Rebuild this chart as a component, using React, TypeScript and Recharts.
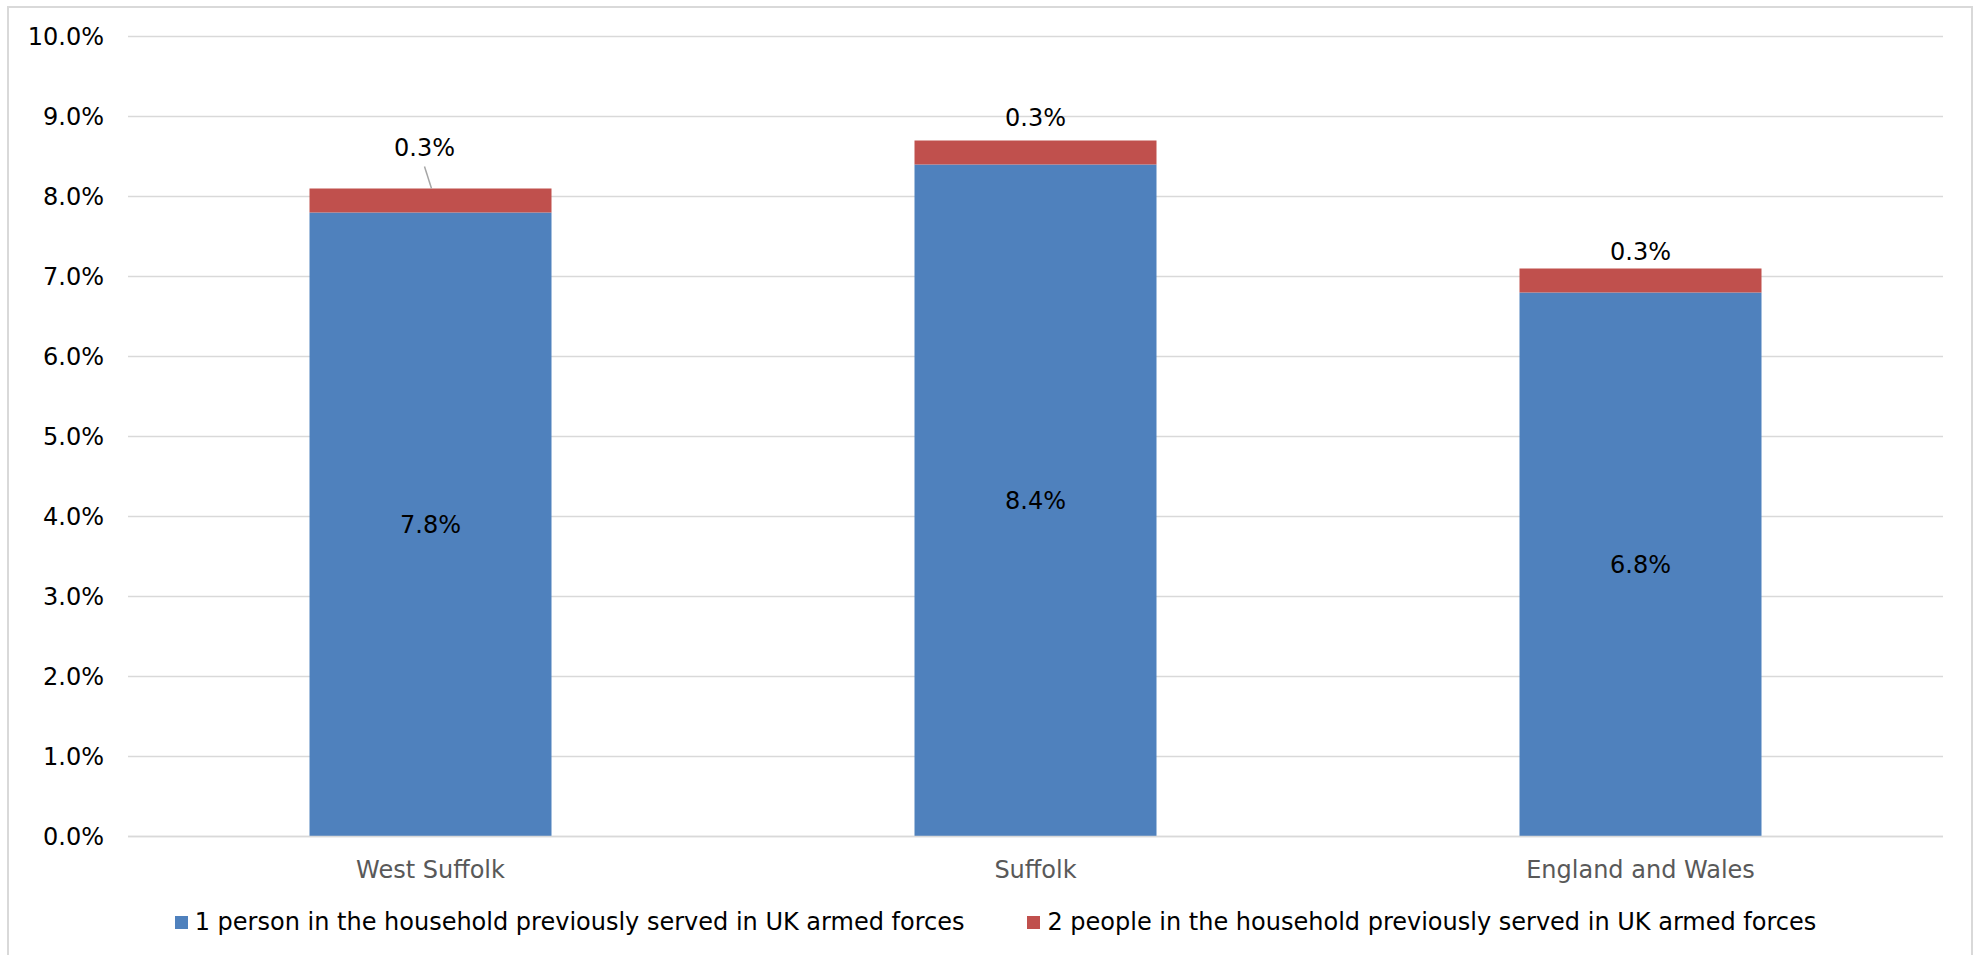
import React from "react";
import { BarChart, Bar, XAxis, YAxis, CartesianGrid, Legend, LabelList } from "recharts";

const areas = ["West Suffolk", "Suffolk", "England and Wales"];
const onePerson = [7.8, 8.4, 6.8];
const twoPeople = [0.3, 0.3, 0.3];
const yTicks = [0, 1, 2, 3, 4, 5, 6, 7, 8, 9, 10];

const seriesNames = [
  "1 person in the household previously served in UK armed forces",
  "2 people in the household previously served in UK armed forces",
];
const seriesColors = ["#4f81bd", "#c0504d"];

const data = areas.map((area, i) => ({ area, one: onePerson[i], two: twoPeople[i] }));

const font = "'DejaVu Sans', Verdana, sans-serif";
const gridColor = "#d9d9d9";
const fmt = (v: number) => `${Number(v).toFixed(1)}%`;

// how far above the stack each small label sits (West Suffolk gets a leader line)
const labelLift: Record<string, number> = { "West Suffolk": 41, Suffolk: 23, "England and Wales": 17 };
const leaderArea = "West Suffolk";

const TopLabel = (props: any) => {
  const { x, y, width, value, index } = props;
  const area = areas[index] ?? "";
  const lift = labelLift[area] ?? 20;
  const cx = x + width / 2;
  const leader = area === leaderArea;
  const tx = leader ? cx - 6 : cx;
  return (
    <g>
      {leader && (
        <line x1={tx} y1={y - 22} x2={cx + 1} y2={y} stroke="#a6a6a6" strokeWidth={1.5} />
      )}
      <text
        x={tx}
        y={y - lift}
        textAnchor="middle"
        dominantBaseline="central"
        fontSize={24}
        fontFamily={font}
        fill="#000"
      >
        {fmt(value)}
      </text>
    </g>
  );
};

const LegendBox = () => (
  <div
    style={{
      display: "flex",
      justifyContent: "center",
      alignItems: "center",
      height: 30,
      paddingLeft: 16,
      gap: 63,
      fontFamily: font,
      fontSize: 24,
      color: "#000",
      whiteSpace: "nowrap",
    }}
  >
    {seriesNames.map((name, i) => (
      <div key={name} style={{ display: "flex", alignItems: "center" }}>
        <span style={{ display: "inline-block", width: 13, height: 13, background: seriesColors[i], marginRight: 7 }} />
        <span>{name}</span>
      </div>
    ))}
  </div>
);

export default function App() {
  return (
    <div>
      <div
        style={{
          position: "absolute",
          left: 7,
          top: 6,
          width: 1966,
          height: 949,
          boxSizing: "border-box",
          borderTop: `2px solid ${gridColor}`,
          borderLeft: `2px solid ${gridColor}`,
          borderRight: `2px solid ${gridColor}`,
        }}
      />
      <div style={{ position: "absolute", left: 0, top: 0 }}>
        <BarChart
          width={1975}
          height={955}
          data={data}
          margin={{ top: 36.5, right: 32, left: 28, bottom: 18 }}
          barCategoryGap="30%"
        >
          <CartesianGrid vertical={false} stroke={gridColor} strokeWidth={1.5} />
          <XAxis
            dataKey="area"
            height={70.5}
            tickLine={false}
            tickMargin={18}
            axisLine={{ stroke: gridColor, strokeWidth: 1.5 }}
            tick={{ fontSize: 24, fontFamily: font, fill: "#595959" }}
          />
          <YAxis
            width={100}
            domain={[0, 10]}
            ticks={yTicks}
            interval={0}
            tickFormatter={fmt}
            axisLine={false}
            tickLine={false}
            tickMargin={18}
            tick={{ fontSize: 24, fontFamily: font, fill: "#000" }}
          />
          <Legend
            verticalAlign="bottom"
            height={30}
            content={<LegendBox />}
            wrapperStyle={{ left: 0, width: 1975 }}
          />
          <Bar dataKey="one" name={seriesNames[0]} stackId="a" fill={seriesColors[0]} isAnimationActive={false}>
            <LabelList
              dataKey="one"
              position="center"
              formatter={(v: any) => fmt(v)}
              fill="#000"
              fontSize={24}
              fontFamily={font}
            />
          </Bar>
          <Bar dataKey="two" name={seriesNames[1]} stackId="a" fill={seriesColors[1]} isAnimationActive={false}>
            <LabelList dataKey="two" content={TopLabel} />
          </Bar>
        </BarChart>
      </div>
    </div>
  );
}
